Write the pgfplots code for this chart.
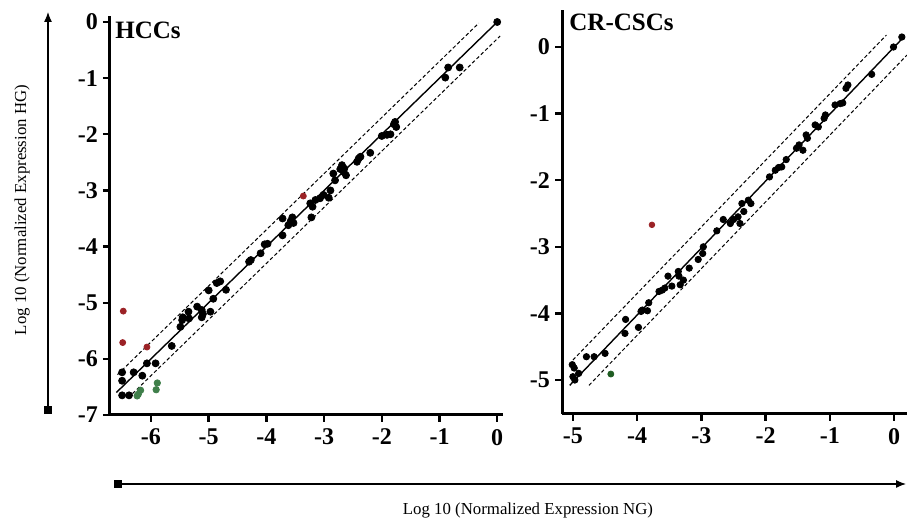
\documentclass[border=0pt]{standalone}
\usepackage{fontspec}
\setmainfont{Liberation Serif}
\usepackage{pgfplots}
\usepackage{pgfplotstable}
\pgfplotsset{compat=1.18}
\usetikzlibrary{arrows.meta}

\definecolor{outred}{HTML}{9B2226}
\definecolor{outgreenA}{HTML}{3F7F4A}
\definecolor{outgreenB}{HTML}{1F5C22}

% HCCs panel
\pgfplotstableread{
x y
-6.50 -6.24
-6.50 -6.39
-6.50 -6.65
-6.38 -6.65
-6.30 -6.24
-6.15 -6.30
-6.07 -6.08
-5.92 -6.08
-5.64 -5.77
-5.49 -5.43
-5.46 -5.31
-5.45 -5.26
-5.35 -5.16
-5.34 -5.28
-5.20 -5.07
-5.12 -5.13
-5.12 -5.26
-5.10 -5.20
-4.97 -5.16
-4.92 -4.93
-5.00 -4.78
-4.86 -4.65
-4.80 -4.62
-4.70 -4.77
-4.30 -4.27
-4.27 -4.24
-4.10 -4.12
-3.98 -3.95
-4.03 -3.96
-3.72 -3.50
-3.72 -3.80
-3.62 -3.62
-3.58 -3.55
-3.55 -3.48
-3.53 -3.58
-3.24 -3.23
-3.20 -3.29
-3.22 -3.48
-3.15 -3.17
-3.07 -3.14
-3.01 -3.08
-2.92 -3.13
-2.89 -3.00
-2.81 -2.82
-2.84 -2.70
-2.69 -2.55
-2.66 -2.67
-2.62 -2.73
-2.65 -2.61
-2.72 -2.62
-2.40 -2.43
-2.37 -2.40
-2.43 -2.49
-2.20 -2.33
-2.00 -2.03
-1.91 -2.01
-1.85 -2.00
-1.79 -1.82
-1.75 -1.87
-1.77 -1.78
-0.90 -0.99
-0.85 -0.81
-0.65 -0.81
0.00 0.00
}\hccblack
\pgfplotstableread{
x y
-6.48 -5.15
-6.49 -5.71
-6.07 -5.79
-3.36 -3.10
}\hccred
\pgfplotstableread{
x y
-6.24 -6.66
-6.22 -6.63
-6.18 -6.56
-5.91 -6.55
-5.89 -6.43
}\hccgreen

% CR-CSCs panel
\pgfplotstableread{
x y
-5.00 -4.95
-4.97 -5.00
-5.01 -4.77
-4.98 -4.82
-4.91 -4.90
-4.79 -4.65
-4.67 -4.65
-4.50 -4.60
-4.19 -4.30
-4.18 -4.09
-3.98 -4.21
-3.94 -3.97
-3.92 -3.95
-3.84 -3.96
-3.82 -3.84
-3.66 -3.67
-3.61 -3.65
-3.57 -3.62
-3.52 -3.44
-3.46 -3.59
-3.36 -3.37
-3.35 -3.44
-3.33 -3.57
-3.28 -3.50
-3.19 -3.32
-3.05 -3.19
-2.98 -3.10
-2.97 -3.00
-2.76 -2.76
-2.66 -2.59
-2.55 -2.65
-2.50 -2.59
-2.43 -2.55
-2.40 -2.65
-2.37 -2.35
-2.34 -2.47
-2.27 -2.30
-2.23 -2.35
-1.94 -1.95
-1.85 -1.85
-1.80 -1.81
-1.75 -1.80
-1.68 -1.69
-1.52 -1.52
-1.48 -1.47
-1.42 -1.55
-1.37 -1.32
-1.35 -1.37
-1.23 -1.17
-1.18 -1.20
-1.07 -1.02
-1.09 -1.07
-0.92 -0.87
-0.84 -0.85
-0.80 -0.84
-0.75 -0.62
-0.72 -0.57
-0.35 -0.41
-0.01 0.00
0.12 0.15
}\cscblack

\pgfplotsset{
  panel/.style={
    scale only axis, anchor=south west, clip=false,
    axis x line*=bottom, axis y line*=left,
    axis line style={line width=1.5pt},
    tick align=outside, major tick length=3.5pt,
    tick style={line width=1.2pt, black},
    ticklabel style={font=\bfseries\fontsize{12}{14}\selectfont},
    yticklabel style={xshift=1pt},
    /pgf/number format/assume math mode=true,
  },
  dot/.style={only marks, mark=*, mark size=1.75pt, #1, mark options={draw=#1, fill=#1}},
  idline/.style={black, line width=0.7pt},
  bandline/.style={black, line width=0.5pt, dash pattern=on 1.8pt off 1.2pt},
}

\begin{document}
\begin{tikzpicture}
\useasboundingbox (0,0) rectangle (453.5pt,-261pt);

\begin{axis}[panel, at={(55pt,-207.5pt)}, width=196.5pt, height=199.3pt,
  xmin=-6.71, xmax=0.1, ymin=-7, ymax=0.1,
  xtick={-6,-5,...,0}, ytick={-7,-6,...,0}]
\addplot[idline] coordinates {(-6.6,-6.6) (0,0)};
\addplot[bandline] coordinates {(-6.58,-6.28) (-0.32,-0.02)};
\addplot[bandline] coordinates {(-6.32,-6.62) (0.05,-0.25)};
\addplot[dot=black] table {\hccblack};
\addplot[dot=outred, mark size=1.5pt] table {\hccred};
\addplot[dot=outgreenA, mark size=1.6pt] table {\hccgreen};
\end{axis}

\begin{axis}[panel, at={(281pt,-207pt)}, width=172.5pt, height=201.8pt,
  xmin=-5.17, xmax=0.2, ymin=-5.51, ymax=0.55,
  xtick={-5,-4,...,0}, ytick={-5,-4,...,0}]
\addplot[idline] coordinates {(-5.05,-5.08) (0.15,0.15)};
\addplot[bandline] coordinates {(-5.0,-4.7) (-0.12,0.18)};
\addplot[bandline] coordinates {(-4.75,-5.08) (0.2,-0.12)};
\addplot[dot=black, mark size=1.6pt] table {\cscblack};
\addplot[dot=outred, mark size=1.4pt] coordinates {(-3.77,-2.67)};
\addplot[dot=outgreenB, mark size=1.5pt] coordinates {(-4.41,-4.91)};
\end{axis}

% panel titles
\node[anchor=west, inner sep=0pt, font=\bfseries\fontsize{12.5}{14}\selectfont] at (57.5pt,-15pt) {HCCs};
\node[anchor=west, inner sep=0pt, font=\bfseries\fontsize{12.5}{14}\selectfont] at (284.5pt,-11pt) {CR-CSCs};

% axis direction arrows and shared labels
\draw[line width=0.6pt, -{Latex[length=5pt,width=4pt]}] (24pt,-205pt) -- (24pt,-6pt);
\fill (22pt,-207pt) rectangle (26pt,-203pt);
\draw[line width=0.6pt, -{Latex[length=5pt,width=4pt]}] (59pt,-242pt) -- (453pt,-242pt);
\fill (57pt,-244pt) rectangle (61pt,-240pt);
\node[rotate=90, font=\fontsize{8.4}{10}\selectfont] at (11pt,-105pt) {Log 10 (Normalized Expression HG)};
\node[font=\fontsize{8.4}{10}\selectfont] at (264pt,-255pt) {Log 10 (Normalized Expression NG)};
\end{tikzpicture}
\end{document}
